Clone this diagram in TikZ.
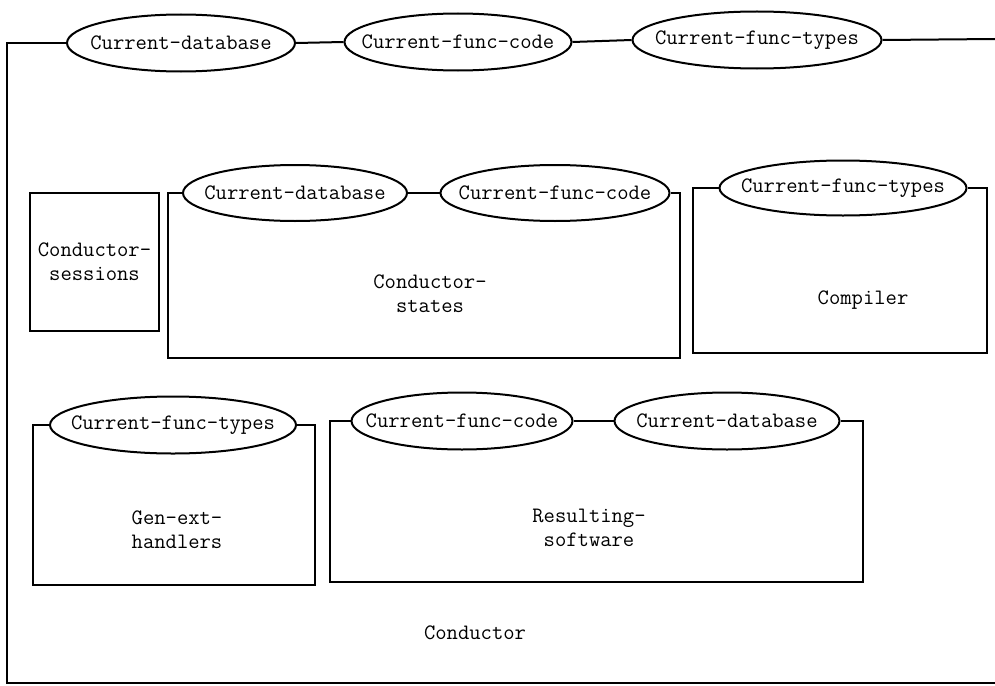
\documentclass[tikz,border=0pt]{standalone}
\usetikzlibrary{shapes.geometric}
\newcommand\etxt[1]{\makebox[0pt]{#1}}
\begin{document}
\begin{tikzpicture}[x=1pt,y=-1pt,line width=2pt,
  txt/.style={font=\fontsize{22}{24}\selectfont\ttfamily,inner sep=0pt},
  attr/.style={draw,ellipse,inner sep=0pt,minimum height=57pt,txt,fill=white}]
\useasboundingbox (0,0) rectangle (995,685);
% outer Conductor
\node[attr,minimum width=228pt] (t1) at (181,43) {\etxt{Current-database}};
\node[attr,minimum width=227pt] (t2) at (458,42) {\etxt{Current-func-code}};
\node[attr,minimum width=249pt] (t3) at (757,40) {\etxt{Current-func-types}};
\coordinate (otl) at (7,43);
\coordinate (obl) at (7,683);
\coordinate (obr) at (995,683);
\coordinate (otr) at (995,39);
\draw (t1.west) -- (otl) -- (obl) -- (obr);
\draw (t1.east) -- (t2.west);
\draw (t2.east) -- (t3.west);
\draw (t3.east) -- (otr);
\node[txt] (cond) at (475,633) {Conductor};
% Conductor-sessions
\node[draw,txt,align=center,minimum width=129pt,minimum height=138pt] (sess) at (94.5,262) {Conductor-\\sessions};
% Conductor-states
\node[attr,minimum width=224pt,minimum height=56pt] (s1) at (295,193) {\etxt{Current-database}};
\node[attr,minimum width=229pt,minimum height=56pt] (s2) at (555,193) {\etxt{Current-func-code}};
\coordinate (sa) at (168,193);
\coordinate (sb) at (168,358);
\coordinate (sc) at (680,358);
\coordinate (sd) at (680,193);
\draw (s1.west) -- (sa) -- (sb) -- (sc) -- (sd) -- (s2.east);
\draw (s1.east) -- (s2.west);
\node[txt,align=center] (stl) at (430,294) {Conductor-\\states};
% Compiler
\node[attr,minimum width=247pt,minimum height=55pt] (c1) at (843,188) {\etxt{Current-func-types}};
\coordinate (ca) at (693,188);
\coordinate (cb) at (693,353);
\coordinate (cc) at (987,353);
\coordinate (cd) at (987,188);
\draw (c1.west) -- (ca) -- (cb) -- (cc) -- (cd) -- (c1.east);
\node[txt] (cml) at (863,300) {Compiler};
% Gen-ext-handlers
\node[attr,minimum width=246pt] (g1) at (173,425) {\etxt{Current-func-types}};
\coordinate (ga) at (33,425);
\coordinate (gb) at (33,585);
\coordinate (gc) at (315,585);
\coordinate (gd) at (315,425);
\draw (g1.west) -- (ga) -- (gb) -- (gc) -- (gd) -- (g1.east);
\node[txt,align=left] (gl) at (177,530) {Gen-ext-\\handlers};
% Resulting-software
\node[attr,minimum width=221pt] (r1) at (462,421) {\etxt{Current-func-code}};
\node[attr,minimum width=225pt] (r2) at (727,421) {\etxt{Current-database}};
\coordinate (ra) at (330,421);
\coordinate (rb) at (330,582);
\coordinate (rc) at (863,582);
\coordinate (rd) at (863,421);
\draw (r1.west) -- (ra) -- (rb) -- (rc) -- (rd) -- (r2.east);
\draw (r1.east) -- (r2.west);
\node[txt,align=center] (rl) at (589,528) {Resulting-\\software};
\end{tikzpicture}
\end{document}
